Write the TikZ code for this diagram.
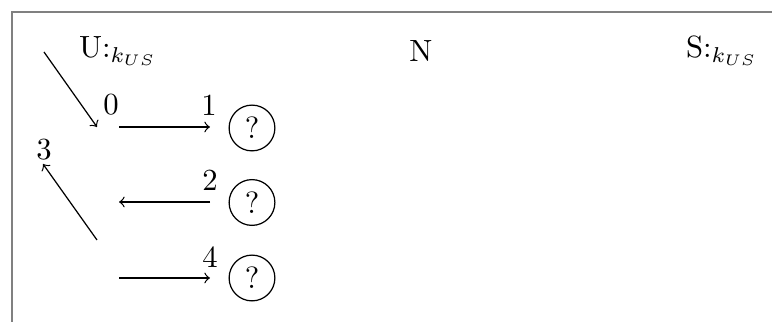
\documentclass[tikz,border=0pt]{standalone}
\begin{document}
\begin{tikzpicture}[x=0.3257pt,y=-0.3257pt,
  msg/.style={->},
  query/.style={draw,circle,inner sep=2.3pt},
  lbl/.style={inner sep=0pt},
  frame/.style={draw=gray,line width=0.65pt}]
\useasboundingbox (0,0) rectangle (772,322);
% open frame along the top and left edges
\draw[frame] (12,330) -- (12,12) -- (780,12);

% parties
\node (U) at (118,51) {U:$_{k_{US}}$};
\node (N) at (421,51) {N};
\node (S) at (722,51) {S:$_{k_{US}}$};

% oracle queries
\node[query] (q1) at (252,128) {?};
\node[query] (q2) at (252,202.5) {?};
\node[query] (q3) at (252,278) {?};

% step numbers
\node[lbl] (n0) at (111,105) {0};
\node[lbl] (n1) at (209,105) {1};
\node[lbl] (n2) at (210,180) {2};
\node[lbl] (n3) at (44,150) {3};
\node[lbl] (n4) at (210,257) {4};

% message end points
\coordinate (a0) at (44,52);
\coordinate (a1) at (97,127);
\coordinate (b0) at (119,127);
\coordinate (b1) at (210,127);
\coordinate (c0) at (210,202);
\coordinate (c1) at (119,202);
\coordinate (d0) at (97,240);
\coordinate (d1) at (43,164);
\coordinate (e0) at (119,278);
\coordinate (e1) at (210,278);

\draw[msg] (a0) -- (a1);
\draw[msg] (b0) -- (b1);
\draw[msg] (c0) -- (c1);
\draw[msg] (d0) -- (d1);
\draw[msg] (e0) -- (e1);
\end{tikzpicture}
\end{document}
